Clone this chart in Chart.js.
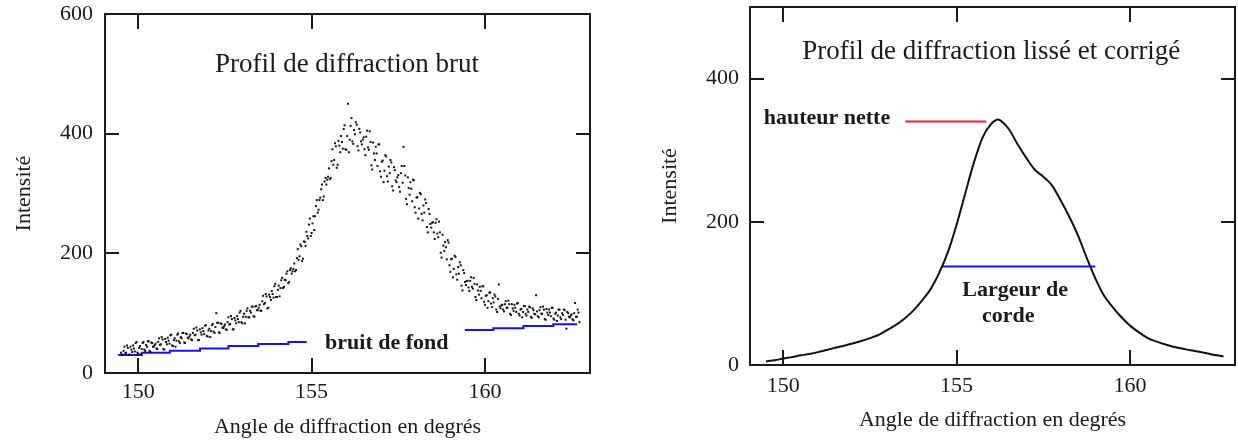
<!DOCTYPE html>
<html lang="fr">
<head>
<meta charset="utf-8">
<title>Profils de diffraction</title>
<script src="https://cdn.jsdelivr.net/npm/chart.js@4.4.1/dist/chart.umd.min.js"></script>
<style>
  html, body { margin: 0; padding: 0; background: #fff; }
  #wrap { position: relative; width: 1238px; height: 442px; }
  canvas { position: absolute; top: 0; }
  #brut { left: 0; }
  #lisse { left: 620px; }
</style>
</head>
<body>
<div id="wrap">
  <canvas id="brut" width="620" height="442"></canvas>
  <canvas id="lisse" width="618" height="442"></canvas>
</div>
<script>
// graduations
const angleTicks = [150, 155, 160];
const brutTicks = [0, 200, 400, 600];
const lisseTicks = [0, 200, 400];

// profil brut : deux séries de mesures tous les 0,05 degré (la 2e décalée de 0,025)
// une ligne = un degré, à partir de 149,5
const brutStart = 149.5;
const brutStep = 0.05;
const brutShift = 0.025;
const brutIntensityA = [
  34, 30, 44, 34, 42, 31, 39, 46, 36, 52, 32, 45, 40, 52, 37, 44, 53, 35, 50, 44,
  49, 40, 58, 48, 56, 39, 52, 59, 49, 64, 45, 58, 54, 66, 50, 58, 67, 50, 65, 58,
  64, 55, 74, 64, 71, 55, 68, 75, 65, 80, 61, 74, 70, 82, 67, 100, 84, 67, 82, 75,
  81, 72, 93, 82, 90, 73, 88, 95, 85, 104, 83, 99, 94, 108, 93, 101, 111, 94, 112, 105,
  114, 104, 129, 117, 128, 109, 127, 137, 126, 149, 127, 146, 142, 159, 144, 155, 170, 152, 175, 170,
  183, 172, 207, 195, 212, 191, 219, 236, 225, 258, 234, 262, 262, 289, 273, 293, 315, 295, 326, 323,
  342, 326, 374, 356, 379, 348, 380, 396, 375, 414, 373, 450, 390, 426, 383, 399, 415, 372, 402, 382,
  394, 364, 405, 373, 386, 340, 367, 378, 346, 382, 328, 355, 338, 362, 320, 334, 352, 305, 339, 319,
  331, 303, 346, 378, 330, 282, 309, 319, 287, 322, 268, 294, 275, 299, 255, 268, 284, 235, 266, 243,
  252, 224, 257, 227, 235, 193, 213, 219, 190, 218, 169, 191, 174, 194, 156, 166, 180, 138, 167, 147,
  154, 137, 160, 141, 149, 122, 138, 144, 125, 145, 114, 130, 120, 135, 110, 118, 128, 102, 148, 108,
  114, 103, 120, 109, 115, 97, 108, 114, 102, 117, 96, 107, 102, 112, 96, 102, 110, 92, 105, 98,
  103, 93, 110, 99, 106, 89, 101, 106, 95, 109, 89, 101, 96, 106, 90, 97, 105, 74, 100, 93,
  98, 88, 117, 94, 101
];
const brutIntensityB = [
  31, 37, 33, 46, 30, 44, 35, 41, 50, 34, 42, 31, 50, 39, 47, 53, 37, 51, 44, 47,
  41, 52, 47, 60, 40, 57, 48, 54, 63, 46, 55, 44, 64, 53, 60, 67, 51, 66, 59, 61,
  56, 67, 63, 76, 55, 73, 64, 70, 79, 62, 71, 60, 80, 69, 77, 84, 68, 83, 76, 78,
  73, 85, 81, 95, 73, 92, 83, 90, 101, 85, 94, 83, 104, 93, 104, 111, 95, 111, 105, 109,
  104, 120, 115, 132, 108, 131, 122, 132, 145, 127, 139, 128, 155, 142, 156, 166, 150, 172, 166, 174,
  170, 192, 189, 215, 187, 220, 212, 229, 248, 229, 250, 239, 279, 268, 289, 307, 289, 320, 315, 328,
  324, 354, 348, 384, 343, 388, 369, 386, 408, 374, 396, 369, 413, 387, 406, 419, 379, 408, 387, 390,
  374, 395, 377, 404, 347, 385, 356, 367, 382, 337, 353, 319, 364, 329, 345, 356, 312, 344, 322, 327,
  311, 334, 318, 346, 291, 327, 298, 308, 323, 277, 293, 258, 301, 266, 280, 290, 244, 274, 249, 251,
  235, 251, 233, 253, 201, 231, 204, 210, 222, 180, 190, 160, 196, 165, 177, 185, 146, 172, 152, 154,
  143, 154, 144, 159, 127, 148, 131, 137, 145, 119, 129, 109, 134, 116, 125, 131, 106, 124, 111, 113,
  106, 115, 109, 121, 99, 115, 104, 109, 116, 99, 106, 93, 112, 99, 106, 111, 94, 108, 99, 130,
  95, 105, 99, 111, 90, 107, 97, 101, 109, 91, 99, 87, 106, 93, 100, 106, 89, 102, 94, 96,
  90, 100, 94, 106, 85
];

// bruit de fond (paliers)
const fondGaucheAngle = [149.42, 150.10, 150.91, 151.78, 152.60, 153.46, 154.33, 154.86];
const fondGaucheIntensity = [30, 34, 37, 41, 45, 48.5, 52, 52];
const fondDroitAngle = [159.42, 160.24, 161.11, 161.97, 162.66];
const fondDroitIntensity = [72, 75, 78.5, 81.5, 81.5];

// profil lissé et corrigé
const lisseAngle = [149.5, 149.75, 150, 150.25, 150.5, 150.75, 151, 151.25, 151.5, 151.75,
  152, 152.25, 152.5, 152.75, 153, 153.25, 153.5, 153.75, 154, 154.25,
  154.5, 154.75, 155, 155.25, 155.5, 155.75, 156, 156.2, 156.25, 156.5,
  156.75, 157, 157.25, 157.5, 157.75, 158, 158.25, 158.5, 158.75, 159,
  159.25, 159.5, 159.75, 160, 160.25, 160.5, 160.75, 161, 161.25, 161.5,
  161.75, 162, 162.25, 162.5, 162.7];
const lisseIntensity = [5, 6.5, 9, 11, 13.5, 15.5, 18, 21, 24, 27,
  30, 33.5, 37.5, 42, 49, 56, 65, 76, 90, 106,
  129, 158, 196, 240, 283, 318, 337, 343, 342, 330,
  309, 290, 273, 263, 251, 230, 207, 181, 150, 121,
  97, 81, 67, 55, 46, 38, 33, 29, 25.5, 23,
  20.5, 18.5, 16, 13.5, 12];
const hauteurAngle = [153.52, 155.85];
const hauteurIntensity = [340, 340];
const cordeAngle = [154.58, 159.0];
const cordeIntensity = [137.5, 137.5];

const ink = '#1a1a1a';
const serif = "'Liberation Serif', 'Times New Roman', serif";
const pairs = (xs, ys) => xs.map((x, i) => ({ x, y: ys[i] }));
const series = (values, start) => values.map((v, i) => ({ x: start + i * brutStep, y: v }));

// texte libre dans le graphe, placé en coordonnées des données
const labelPlugin = {
  id: 'labels',
  afterDatasetsDraw(chart, args, opts) {
    const { ctx, scales } = chart;
    ctx.save();
    ctx.fillStyle = ink;
    ctx.textAlign = 'center';
    ctx.textBaseline = 'middle';
    (opts.items || []).forEach(t => {
      ctx.font = t.font;
      ctx.fillText(t.text, scales.x.getPixelForValue(t.x), scales.y.getPixelForValue(t.y));
    });
    ctx.restore();
  }
};

function frameAxis(axis, position, ticks, min, max, size, labels, tickLen, pad, title) {
  return {
    type: 'linear', axis, position, min, max,
    afterBuildTicks: s => { s.ticks = ticks.map(v => ({ value: v })); },
    afterFit: s => {
      if (s.isHorizontal()) s.height = size; else s.width = size;
      s.paddingTop = s.paddingBottom = s.paddingLeft = s.paddingRight = 0;
    },
    grid: { drawOnChartArea: false, drawTicks: true, tickLength: -tickLen, lineWidth: 2, color: ink },
    border: { display: true, width: 2, color: ink },
    ticks: { display: labels, padding: pad, maxRotation: 0, autoSkip: false, color: ink, font: { family: serif, size: 22 } },
    title: title ? Object.assign({ display: true, color: ink, font: { family: serif, size: 22 } }, title) : { display: false }
  };
}

function makeChart(id, cfg) {
  return new Chart(document.getElementById(id), {
    type: 'scatter',
    data: { datasets: cfg.datasets },
    options: {
      responsive: false, animation: false, devicePixelRatio: 1,
      layout: { padding: 0 },
      plugins: { legend: { display: false }, tooltip: { enabled: false }, labels: { items: cfg.items } },
      scales: {
        x: frameAxis('x', 'bottom', angleTicks, 149.04, 163.03, cfg.bottom, true, 15, cfg.xPad,
          { text: 'Angle de diffraction en degrés', padding: { top: 0, bottom: cfg.xTitlePad } }),
        x2: frameAxis('x', 'top', angleTicks, 149.04, 163.03, cfg.top, false, 15, 0),
        y: frameAxis('y', 'left', cfg.yTicks, 0, cfg.yMax, cfg.left, true, 14, cfg.yPad,
          { text: 'Intensité', padding: { top: cfg.yTitlePad, bottom: 0 } }),
        y2: frameAxis('y', 'right', cfg.yTicks, 0, cfg.yMax, cfg.right, false, 14, 0)
      }
    },
    plugins: [labelPlugin]
  });
}

const dots = { pointStyle: 'rect', pointRadius: 1.4, borderWidth: 0, backgroundColor: '#111' };

makeChart('brut', {
  top: 14, bottom: 69, left: 105, right: 30,
  yTicks: brutTicks, yMax: 600,
  xPad: 21, yPad: 26, xTitlePad: 2, yTitlePad: 11,
  datasets: [
    Object.assign({ data: series(brutIntensityA, brutStart) }, dots),
    Object.assign({ data: series(brutIntensityB, brutStart + brutShift) }, dots),
    {
      type: 'line', data: pairs(fondGaucheAngle, fondGaucheIntensity), stepped: true,
      borderColor: '#1414f0', borderWidth: 2, pointRadius: 0
    },
    {
      type: 'line', data: pairs(fondDroitAngle, fondDroitIntensity), stepped: true,
      borderColor: '#1414f0', borderWidth: 2, pointRadius: 0
    }
  ],
  items: [
    { text: 'Profil de diffraction brut', x: 156.02, y: 515, font: `27px ${serif}` },
    { text: 'bruit de fond', x: 157.17, y: 50, font: `bold 22px ${serif}` }
  ]
});

makeChart('lisse', {
  top: 7, bottom: 77, left: 130, right: 3,
  yTicks: lisseTicks, yMax: 500,
  xPad: 23, yPad: 25, xTitlePad: 9, yTitlePad: 37,
  datasets: [
    {
      type: 'line', data: pairs(lisseAngle, lisseIntensity), cubicInterpolationMode: 'monotone',
      borderColor: '#111', borderWidth: 2, pointRadius: 0
    },
    {
      type: 'line', data: pairs(hauteurAngle, hauteurIntensity),
      borderColor: '#ff1a1a', borderWidth: 2, pointRadius: 0
    },
    {
      type: 'line', data: pairs(cordeAngle, cordeIntensity),
      borderColor: '#1414f0', borderWidth: 2, pointRadius: 0
    }
  ],
  items: [
    { text: 'Profil de diffraction lissé et corrigé', x: 156.0, y: 437.5, font: `27px ${serif}` },
    { text: 'hauteur nette', x: 151.26, y: 344, font: `bold 22px ${serif}` },
    { text: 'Largeur de', x: 156.69, y: 104, font: `bold 22px ${serif}` },
    { text: 'corde', x: 156.49, y: 68, font: `bold 22px ${serif}` }
  ]
});
</script>
</body>
</html>
